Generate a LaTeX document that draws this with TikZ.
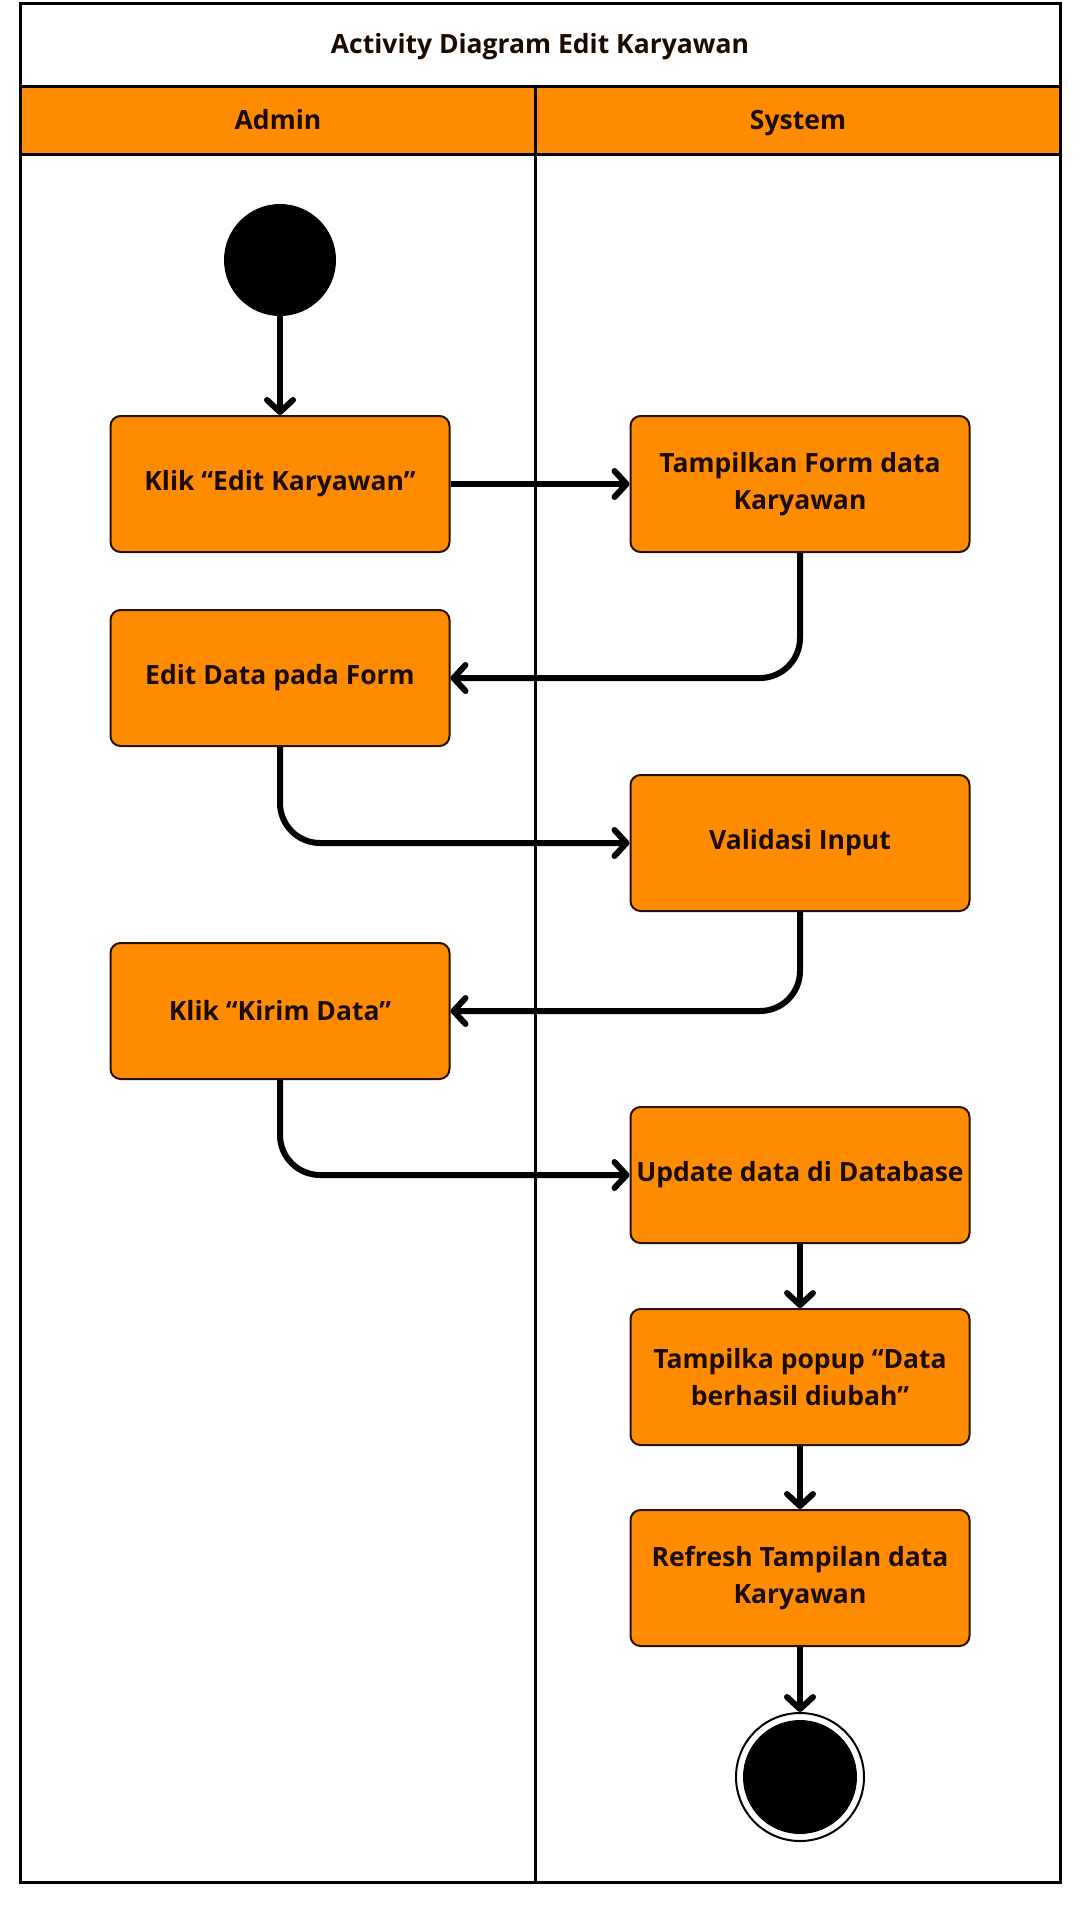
\documentclass[tikz,border=0pt]{standalone}
\usepackage{fontspec}
\setmainfont{Open Sans}
\usepackage{xcolor}
\usepackage{tikz}
\usetikzlibrary{arrows.meta,positioning,calc}

\definecolor{lanecol}{HTML}{FF8C00}
\definecolor{edgecol}{HTML}{2A1200}
\definecolor{textcol}{HTML}{1A0A00}

\begin{document}
\begin{tikzpicture}[x=1pt,y=-1pt,
		actbox/.style={draw=edgecol,line width=2pt,fill=lanecol,rounded corners=10pt,
			minimum width=339pt,minimum height=136pt,inner sep=0pt,align=center,
			text=textcol,font=\fontsize{26.5}{37}\selectfont\bfseries},
		flow/.style={-{Straight Barb[length=12pt,width=26pt,round]},line width=6pt,rounded corners=40pt},
		lane/.style={font=\fontsize{26.5}{30}\selectfont\bfseries,text=textcol,anchor=base}]
		\useasboundingbox (0,0) rectangle (1080,1920);
		% swimlanes
		\fill[lanecol] (20,86) rectangle (1060,154);
		\draw[line width=3pt] (20,3) rectangle (1060,1882);
		\draw[line width=3pt] (20,86) -- (1060,86);
		\draw[line width=3pt] (20,154) -- (1060,154);
		\draw[line width=3pt] (535,86) -- (535,1882);
		\node[lane] (title) at (540,53) {Activity Diagram Edit Karyawan};
		\node[lane] (admin) at (278,129) {Admin};
		\node[lane] (system) at (798,129) {System};
		% activities
		\node[circle,fill=black,minimum size=112pt,inner sep=0pt] (start) at (280,260) {};
		\node[actbox] (klikedit) at (280,484) {Klik “Edit Karyawan”};
		\node[actbox] (form) at (800,484) {Tampilkan Form data\\Karyawan};
		\node[actbox] (editdata) at (280,678) {Edit Data pada Form};
		\node[actbox] (validasi) at (800,843) {Validasi Input};
		\node[actbox] (kirim) at (280,1011) {Klik “Kirim Data”};
		\node[actbox] (update) at (800,1175) {Update data di Database};
		\node[actbox] (popup) at (800,1377) {Tampilka popup “Data\\berhasil diubah”};
		\node[actbox] (refresh) at (800,1578) {Refresh Tampilan data\\Karyawan};
		\node[circle,draw=black,line width=2pt,fill=white,minimum size=128pt,inner sep=0pt] (finish) at (800,1777) {};
		\fill[black] (finish.center) circle (57);
		% connectors
		\draw[flow] (start) -- (klikedit);
		\draw[flow] (klikedit) -- (form);
		\draw[flow] (form.south) |- (editdata.east);
		\draw[flow] (editdata.south) |- (validasi.west);
		\draw[flow] (validasi.south) |- (kirim.east);
		\draw[flow] (kirim.south) |- (update.west);
		\draw[flow] (update) -- (popup);
		\draw[flow] (popup) -- (refresh);
		\draw[flow] (refresh) -- (finish);
	\end{tikzpicture}
\end{document}
